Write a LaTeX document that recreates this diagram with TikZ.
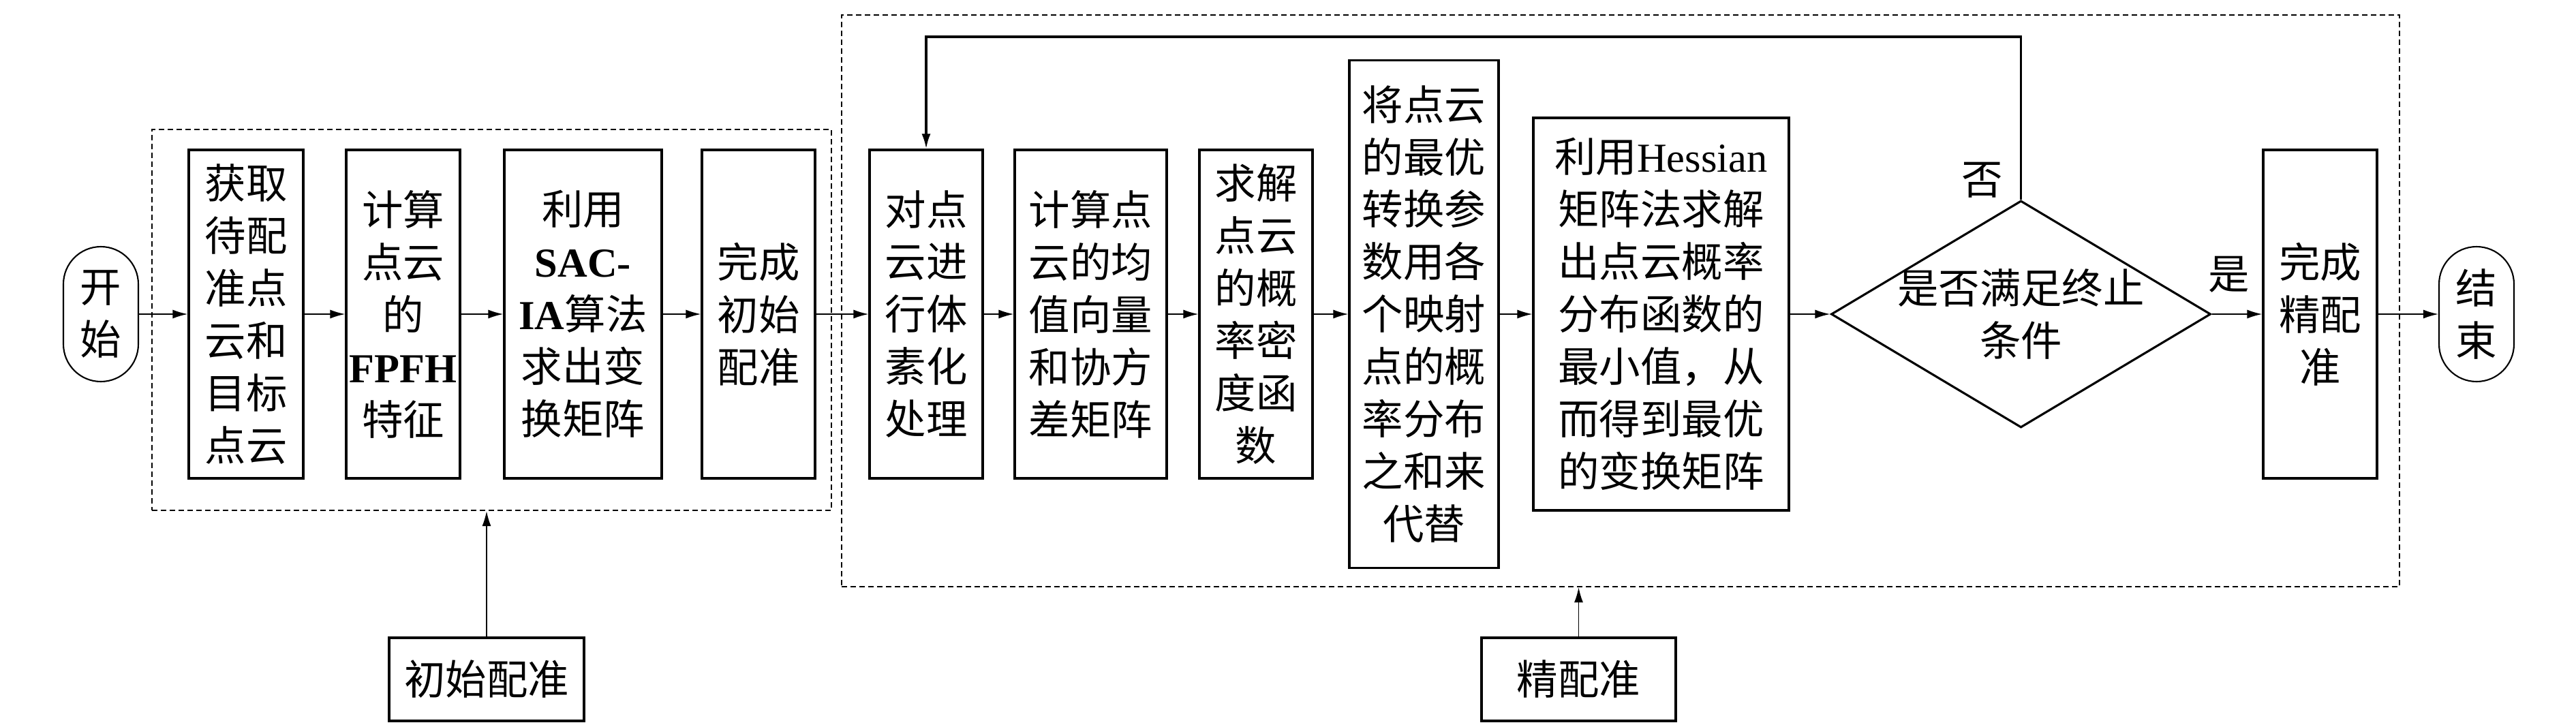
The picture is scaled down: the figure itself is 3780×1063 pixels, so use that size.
\documentclass[tikz,border=0pt]{standalone}
\usepackage{fontspec}
\setmainfont{Noto Sans CJK SC}
\newfontfamily\latin{Liberation Serif}
\usetikzlibrary{arrows.meta,shapes.geometric}

\begin{document}
\begin{tikzpicture}[x=0.1mm, y=-0.1mm, >={Latex[length=2.2mm,width=1.3mm]},
  font=\fontsize{17.2pt}{21.9pt}\selectfont,
  box/.style={draw, line width=0.9pt, align=center, inner sep=0pt, minimum height=48.2mm},
  term/.style={draw, line width=0.6pt, rounded corners=5.5mm, align=center, inner sep=0pt,
    minimum width=11mm, minimum height=19.8mm},
  group/.style={draw, line width=0.6pt, dash pattern=on 0.8mm off 0.5mm, inner sep=0pt},
  lbl/.style={draw, line width=0.9pt, inner sep=0pt, minimum height=12.2mm},
  flow/.style={->, line width=0.5pt}]
  \useasboundingbox (0,0) rectangle (3780,1063);

  % dashed groups
  \node[group, minimum width=99.7mm, minimum height=55.9mm] (grpinit) at (721.5,469.5) {};
  \node[group, minimum width=228.6mm, minimum height=83.9mm] (grpfine) at (2378,441.5) {};

  % initial registration
  \node[term] (start) at (148,461) {开\\始};
  \node[box, minimum width=16.8mm] (acq) at (361,461) {获取\\待配\\准点\\云和\\目标\\点云};
  \node[box, minimum width=16.7mm] (fpfh) at (591.5,461) {计算\\点云\\的\\{\latin\bfseries FPFH}\\特征};
  \node[box, minimum width=23.1mm] (sacia) at (855.5,461) {利用\\{\latin\bfseries SAC-}\\{\latin\bfseries IA}算法\\求出变\\换矩阵};
  \node[box, minimum width=16.6mm] (initdone) at (1113,461) {完成\\初始\\配准};

  % fine registration
  \node[box, minimum width=16.6mm] (voxel) at (1359,461) {对点\\云进\\行体\\素化\\处理};
  \node[box, minimum width=22.3mm] (meancov) at (1600.5,461) {计算点\\云的均\\值向量\\和协方\\差矩阵};
  \node[box, minimum width=16.6mm] (pdf) at (1843,461) {求解\\点云\\的概\\率密\\度函\\数};
  \node[box, minimum width=21.9mm, minimum height=74.5mm] (subst) at (2089.5,461)
    {将点云\\的最优\\转换参\\数用各\\个映射\\点的概\\率分布\\之和来\\代替};
  \node[box, minimum width=37.5mm, minimum height=57.6mm] (hessian) at (2437.5,461)
    {利用{\latin Hessian}\\矩阵法求解\\出点云概率\\分布函数的\\最小值，从\\而得到最优\\的变换矩阵};
  \node[diamond, draw, line width=0.9pt, inner sep=0pt, minimum width=55.7mm, minimum height=33.3mm] (dec) at (2965.5,461) {};
  \node[align=center] (dectext) at (dec) {是否满足终止\\条件};
  \node[box, minimum width=16.7mm] (finedone) at (3404.5,461) {完成\\精配\\准};
  \node[term] (stop) at (3634,461) {结\\束};

  \node (nolbl) at (2909,264) {否};
  \node (yeslbl) at (3271,403) {是};

  % group labels
  \node[lbl, minimum width=28.6mm] (initlbl) at (714,997) {初始配准};
  \node[lbl, minimum width=28.5mm] (finelbl) at (2316.5,997) {精配准};

  \draw[flow] (start) -- (acq);
  \draw[flow] (acq) -- (fpfh);
  \draw[flow] (fpfh) -- (sacia);
  \draw[flow] (sacia) -- (initdone);
  \draw[flow] (initdone) -- (voxel);
  \draw[flow] (voxel) -- (meancov);
  \draw[flow] (meancov) -- (pdf);
  \draw[flow] (pdf) -- (subst);
  \draw[flow] (subst) -- (hessian);
  \draw[flow] (hessian) -- (dec);
  \draw[flow] (dec) -- (finedone);
  \draw[flow] (finedone) -- (stop);

  % loop back
  \coordinate (looptop) at (2966,54);
  \draw[flow, line width=0.9pt] (dec.north) -- (dec.north |- looptop) -| (voxel.north);

  \draw[flow] (initlbl) -- (initlbl |- grpinit.south);
  \draw[flow] (finelbl) -- (finelbl |- grpfine.south);
\end{tikzpicture}
\end{document}
